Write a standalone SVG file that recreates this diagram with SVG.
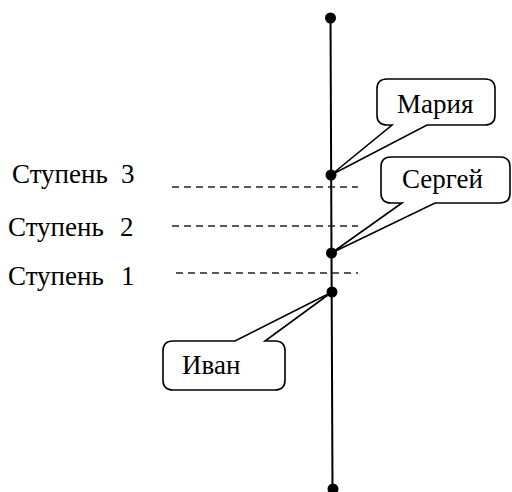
<svg xmlns="http://www.w3.org/2000/svg" width="512" height="492" viewBox="0 0 512 492">
<style>
.t{font-family:"Liberation Serif","Times New Roman",serif;font-size:27px;fill:#000}
.c{fill:#fff;stroke:#000;stroke-width:1.6;stroke-linejoin:miter}
.d{stroke:#222;stroke-width:1.5;stroke-dasharray:7 5;fill:none}
.dot{fill:#000}
</style>
<rect width="512" height="492" fill="#fff"/>
<g id="connectors">
<line x1="330.5" y1="18" x2="332.5" y2="490" stroke="#000" stroke-width="2"/>
<line class="d" x1="172" y1="187" x2="358" y2="187"/>
<line class="d" x1="172" y1="226" x2="358" y2="226"/>
<line class="d" x1="176" y1="273" x2="358" y2="273"/>
</g>
<g id="levels">
<text class="t" x="12" y="183">Ступень <tspan x="121">3</tspan></text>
<text class="t" x="8" y="236">Ступень <tspan x="120">2</tspan></text>
<text class="t" x="8" y="285">Ступень <tspan x="121">1</tspan></text>
</g>
<g id="points">
<circle class="dot" cx="330.5" cy="18" r="5.5"/>
<circle class="dot" cx="331" cy="175" r="5.5"/>
<circle class="dot" cx="331.5" cy="253" r="5.5"/>
<circle class="dot" cx="332" cy="292" r="5.5"/>
<circle class="dot" cx="333" cy="489" r="5.5"/>
</g>
<g id="maria">
<path class="c" d="M387,79 H485 Q495,79 495,89 V115 Q495,125 485,125 H427 L331,175 L392,125 H387 Q377,125 377,115 V89 Q377,79 387,79 Z"/>
<text class="t" x="397" y="113">Мария</text>
</g>
<g id="sergey">
<path class="c" d="M391,157 H500 Q510,157 510,167 V193 Q510,203 500,203 H435 L331.5,253 L402,203 H391 Q381,203 381,193 V167 Q381,157 391,157 Z"/>
<text class="t" x="402" y="188">Сергей</text>
</g>
<g id="ivan">
<path class="c" d="M173,341 H235 L332,292 L265,341 H275 Q285,341 285,351 V380 Q285,390 275,390 H173 Q163,390 163,380 V351 Q163,341 173,341 Z"/>
<text class="t" x="182" y="374">Иван</text>
</g>
</svg>
